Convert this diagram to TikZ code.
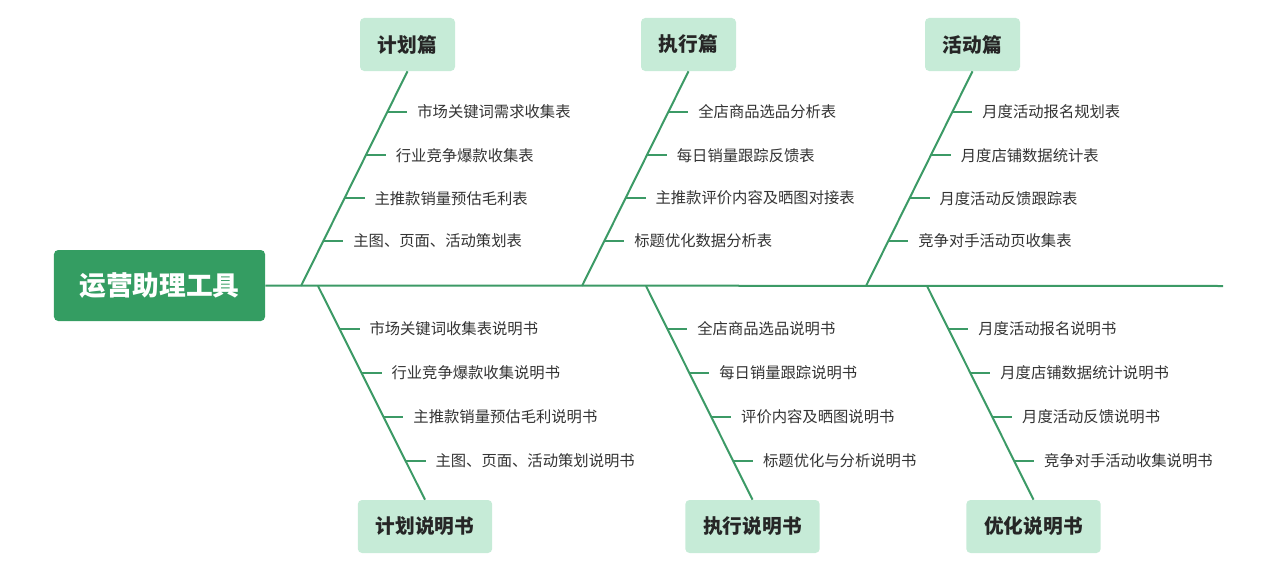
\documentclass[tikz,border=0pt]{standalone}
\usepackage{fontspec}
\setmainfont{Noto Sans CJK SC}
\usepackage{tikz}
\usetikzlibrary{positioning, calc}

\definecolor{rootgreen}{HTML}{349D62}
\definecolor{catgreen}{HTML}{C6EBD7}
\definecolor{bonegreen}{HTML}{3C9A66}
\definecolor{itemgray}{HTML}{333333}

\begin{document}
\begin{tikzpicture}[
    x=0.25mm, y=-0.25mm,
    root/.style={fill=rootgreen, text=white, rounded corners=3pt, inner sep=0pt,
                 minimum width=52.75mm, minimum height=17.75mm,
                 font=\fontsize{19}{22}\selectfont\bfseries},
    cat/.style={fill=catgreen, text=black!85, rounded corners=3pt, inner sep=0pt,
                minimum width=23.75mm, minimum height=13.25mm,
                font=\fontsize{14}{17}\selectfont\bfseries},
    catwide/.style={cat, minimum width=33.6mm},
    item/.style={anchor=west, inner sep=0pt, outer xsep=2.5mm, text=itemgray,
                 font=\fontsize{10.9}{13}\selectfont},
    bone/.style={draw=bonegreen, line width=0.5mm},
]
\useasboundingbox (0,0) rectangle (1280,576);

% --- spine: the tool box on the left, one long line to the right ------------
\node[root] (root) at (159.5,285.5) {运营助理工具};
\coordinate (tail) at (1223,286);
\draw[bone] (root.east) -- (tail);

% --- upper bones: the three sheets ----------------------------------------
\node[cat] (plan)  at (407.5,44.5) {计划篇};
\node[cat] (exec)  at (688.5,44.5) {执行篇};
\node[cat] (event) at (972.5,44.5) {活动篇};
\coordinate (s1) at (301,286);
\coordinate (s2) at (582,286);
\coordinate (s3) at (866,286);
\foreach \c/\s in {plan/s1, exec/s2, event/s3} \draw[bone] (\c.south) -- (\s);

% --- lower bones: the three handbooks -------------------------------------
\node[catwide] (planbook)  at (425,526.5)  {计划说明书};
\node[catwide] (execbook)  at (752.5,526.5) {执行说明书};
\node[catwide] (optbook)   at (1033.5,526.5) {优化说明书};
\coordinate (r1) at (318,286);
\coordinate (r2) at (646,286);
\coordinate (r3) at (927,286);
\foreach \s/\c in {r1/planbook, r2/execbook, r3/optbook} \draw[bone] (\s) -- (\c.north);

% --- twigs on the upper bones ---------------------------------------------
\foreach \c/\s/\k in {plan/s1/p, exec/s2/e, event/s3/a}
  \path (\c.south) -- (\s)
    coordinate[pos=0.189] (\k1) coordinate[pos=0.391] (\k2)
    coordinate[pos=0.591] (\k3) coordinate[pos=0.790] (\k4);

\node[item] (p1i) at ($(p1)+(20,0)$) {市场关键词需求收集表};
\node[item] (p2i) at ($(p2)+(20,0)$) {行业竞争爆款收集表};
\node[item] (p3i) at ($(p3)+(20,0)$) {主推款销量预估毛利表};
\node[item] (p4i) at ($(p4)+(20,0)$) {主图、页面、活动策划表};

\node[item] (e1i) at ($(e1)+(20,0)$) {全店商品选品分析表};
\node[item] (e2i) at ($(e2)+(20,0)$) {每日销量跟踪反馈表};
\node[item] (e3i) at ($(e3)+(20,0)$) {主推款评价内容及晒图对接表};
\node[item] (e4i) at ($(e4)+(20,0)$) {标题优化数据分析表};

\node[item] (a1i) at ($(a1)+(20,0)$) {月度活动报名规划表};
\node[item] (a2i) at ($(a2)+(20,0)$) {月度店铺数据统计表};
\node[item] (a3i) at ($(a3)+(20,0)$) {月度活动反馈跟踪表};
\node[item] (a4i) at ($(a4)+(20,0)$) {竞争对手活动页收集表};

% --- twigs on the lower bones ---------------------------------------------
\foreach \s/\c/\k in {r1/planbook/q, r2/execbook/x, r3/optbook/o}
  \path (\s) -- (\c.north)
    coordinate[pos=0.201] (\k1) coordinate[pos=0.407] (\k2)
    coordinate[pos=0.612] (\k3) coordinate[pos=0.818] (\k4);

\node[item] (q1i) at ($(q1)+(20,0)$) {市场关键词收集表说明书};
\node[item] (q2i) at ($(q2)+(20,0)$) {行业竞争爆款收集说明书};
\node[item] (q3i) at ($(q3)+(20,0)$) {主推款销量预估毛利说明书};
\node[item] (q4i) at ($(q4)+(20,0)$) {主图、页面、活动策划说明书};

\node[item] (x1i) at ($(x1)+(20,0)$) {全店商品选品说明书};
\node[item] (x2i) at ($(x2)+(20,0)$) {每日销量跟踪说明书};
\node[item] (x3i) at ($(x3)+(20,0)$) {评价内容及晒图说明书};
\node[item] (x4i) at ($(x4)+(20,0)$) {标题优化与分析说明书};

\node[item] (o1i) at ($(o1)+(20,0)$) {月度活动报名说明书};
\node[item] (o2i) at ($(o2)+(20,0)$) {月度店铺数据统计说明书};
\node[item] (o3i) at ($(o3)+(20,0)$) {月度活动反馈说明书};
\node[item] (o4i) at ($(o4)+(20,0)$) {竞争对手活动收集说明书};

\foreach \k in {p,e,a,q,x,o}
  \foreach \n in {1,2,3,4}
    \draw[bone] (\k\n) -- (\k\n i.west);

\end{tikzpicture}
\end{document}
